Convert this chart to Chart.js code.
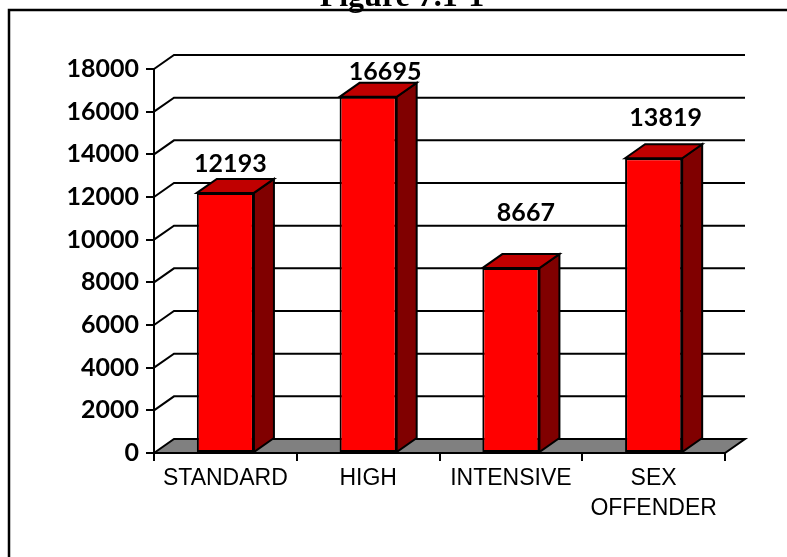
<!DOCTYPE html>
<html>
<head>
<meta charset="utf-8">
<script src="https://cdn.jsdelivr.net/npm/chart.js@4.4.0/dist/chart.umd.min.js"></script>
<style>
  html, body { margin: 0; padding: 0; background: #fff; }
  #wrap { width: 787px; height: 557px; }
</style>
</head>
<body>
<div id="wrap"><canvas id="caseload-chart" width="787" height="557"></canvas></div>
<script>
const categories = ['STANDARD', 'HIGH', 'INTENSIVE', ['SEX', 'OFFENDER']];
const caseCounts = [12193, 16695, 8667, 13819];
const yTicks = [0, 2000, 4000, 6000, 8000, 10000, 12000, 14000, 16000, 18000];
const figureTitle = 'Figure 7.1-1';

// depth of the 3D bars, floor and back wall
const DEPTH_X = 20;
const DEPTH_Y = -14;

// value label placement: offset from the middle of the bar front / its top edge
const labelNudge = [[5, -21], [17, -17], [15, -47], [12, -32]];

const FRONT = '#ff0000';
const TOP = '#c00000';
const SIDE = '#800000';

const bars3d = {
    id: 'bars3d',
    beforeDatasetsDraw(chart) {
        const { ctx, chartArea: area, scales: { y } } = chart;
        ctx.save();
        ctx.lineWidth = 2;
        ctx.strokeStyle = '#000';

        // back wall lines, each joined to the axis across the left wall
        for (const v of yTicks) {
            if (v === 0) continue;
            const py = y.getPixelForValue(v);
            ctx.beginPath();
            ctx.moveTo(area.left, py);
            ctx.lineTo(area.left + DEPTH_X, py + DEPTH_Y);
            ctx.lineTo(area.right + DEPTH_X, py + DEPTH_Y);
            ctx.stroke();
        }

        // grey floor
        const fy = y.getPixelForValue(0);
        ctx.beginPath();
        ctx.moveTo(area.left, fy);
        ctx.lineTo(area.left + DEPTH_X, fy + DEPTH_Y);
        ctx.lineTo(area.right + DEPTH_X, fy + DEPTH_Y);
        ctx.lineTo(area.right, fy);
        ctx.closePath();
        ctx.fillStyle = '#808080';
        ctx.fill();
        ctx.stroke();
        ctx.restore();
    },
    afterDatasetsDraw(chart) {
        const { ctx } = chart;
        const meta = chart.getDatasetMeta(0);
        ctx.save();
        ctx.lineWidth = 2;
        ctx.strokeStyle = '#000';
        ctx.lineJoin = 'miter';

        meta.data.forEach((bar, i) => {
            const { x, y, base, width } = bar.getProps(['x', 'y', 'base', 'width'], true);
            const l = x - width / 2;
            const r = x + width / 2;

            // right side
            ctx.beginPath();
            ctx.moveTo(r, y);
            ctx.lineTo(r + DEPTH_X, y + DEPTH_Y);
            ctx.lineTo(r + DEPTH_X, base + DEPTH_Y);
            ctx.lineTo(r, base);
            ctx.closePath();
            ctx.fillStyle = SIDE;
            ctx.fill();
            ctx.stroke();

            // top
            ctx.beginPath();
            ctx.moveTo(l, y);
            ctx.lineTo(l + DEPTH_X, y + DEPTH_Y);
            ctx.lineTo(r + DEPTH_X, y + DEPTH_Y);
            ctx.lineTo(r, y);
            ctx.closePath();
            ctx.fillStyle = TOP;
            ctx.fill();
            ctx.stroke();

            // value label
            const [nx, ny] = labelNudge[i];
            ctx.fillStyle = '#000';
            ctx.font = 'bold 25px Lato';
            ctx.textAlign = 'center';
            ctx.textBaseline = 'alphabetic';
            ctx.fillText(String(caseCounts[i]), x + nx, y + ny);
        });
        ctx.restore();
    },
    afterDraw(chart) {
        const { ctx } = chart;
        ctx.save();
        // frame around the figure
        ctx.strokeStyle = '#000';
        ctx.lineWidth = 2.5;
        ctx.beginPath();
        ctx.moveTo(9, chart.height + 5);
        ctx.lineTo(9, 10);
        ctx.lineTo(chart.width + 5, 10);
        ctx.stroke();

        ctx.fillStyle = '#000';
        ctx.font = 'bold 32px "Liberation Serif"';
        ctx.textAlign = 'center';
        ctx.textBaseline = 'alphabetic';
        ctx.fillText(figureTitle, 402, 6);
        ctx.restore();
    }
};

const ctx = document.getElementById('caseload-chart').getContext('2d');

new Chart(ctx, {
    type: 'bar',
    data: {
        labels: categories,
        datasets: [{
            data: caseCounts,
            backgroundColor: FRONT,
            borderColor: '#000',
            borderWidth: 2,
            borderSkipped: false,
            barPercentage: 0.4,
            categoryPercentage: 1.0,
        }]
    },
    options: {
        animation: false,
        responsive: false,
        devicePixelRatio: 1,
        layout: {
            padding: { top: 69, right: 62, bottom: 24, left: 8 },
        },
        plugins: {
            legend: { display: false },
            tooltip: { enabled: false },
        },
        scales: {
            x: {
                afterFit: (scale) => { scale.height = 80; },
                grid: {
                    drawOnChartArea: false,
                    tickLength: 8,
                    color: '#000',
                    lineWidth: 2,
                },
                border: { color: '#000', width: 2 },
                ticks: {
                    color: '#000',
                    padding: 3,
                    maxRotation: 0,
                    autoSkip: false,
                    font: { family: '"Liberation Sans"', size: 23, lineHeight: 1.3 },
                },
            },
            y: {
                min: 0,
                max: 18000,
                afterFit: (scale) => { scale.width = 146; },
                afterBuildTicks: (scale) => { scale.ticks = yTicks.map(v => ({ value: v })); },
                grid: {
                    drawOnChartArea: false,
                    tickLength: 8,
                    color: '#000',
                    lineWidth: 2,
                },
                border: { color: '#000', width: 2 },
                ticks: {
                    color: '#000',
                    padding: 7,
                    callback: (v) => String(v),
                    font: { family: 'Lato', size: 25, weight: 'bold' },
                },
            },
        },
    },
    plugins: [bars3d],
});
</script>
</body>
</html>
